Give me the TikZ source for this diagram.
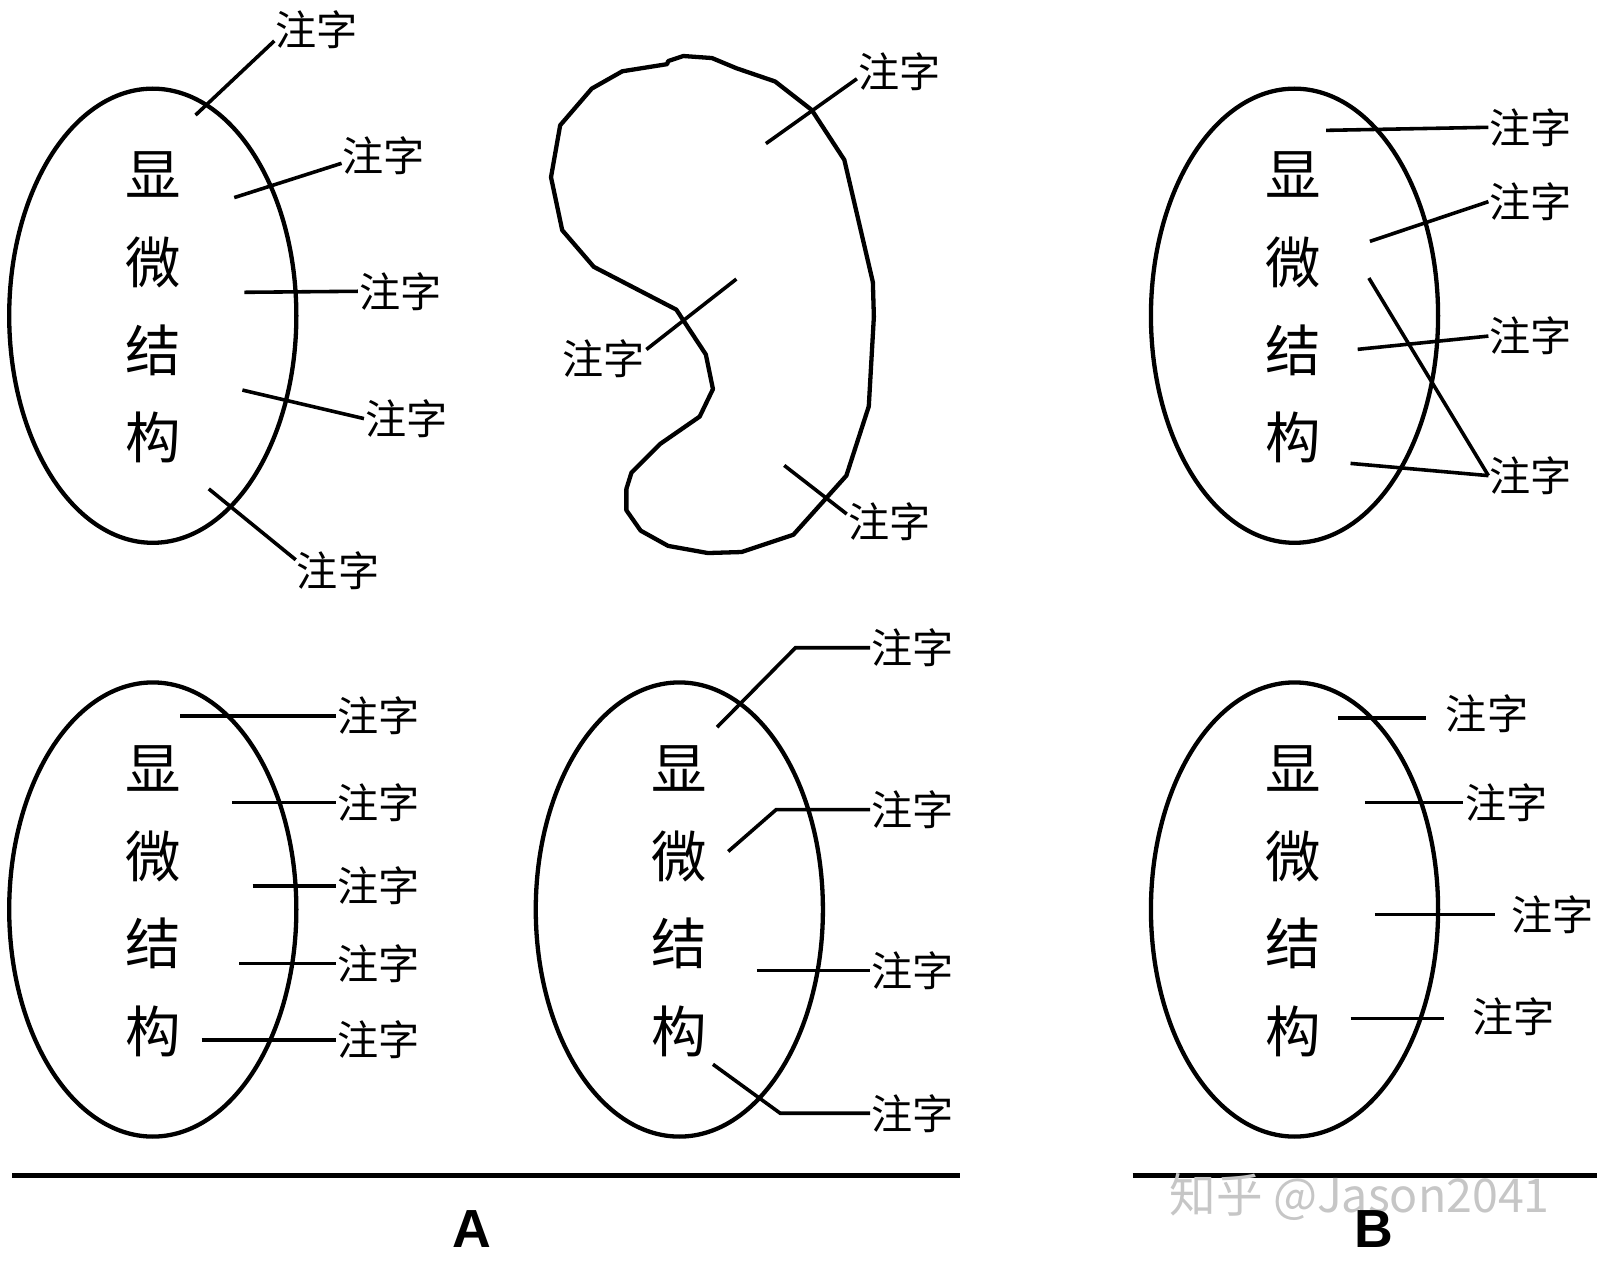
\documentclass[tikz,border=0pt]{standalone}
\usepackage{fontspec}
\setmainfont{Liberation Sans}
\newfontfamily\cjk{Noto Sans CJK SC}
\usetikzlibrary{shapes.geometric}

\begin{document}
\begin{tikzpicture}[x=0.02cm, y=-0.02cm,
        cell/.style={draw, ellipse, line width=2.4pt, minimum width=5.64cm, minimum height=8.92cm, inner sep=0pt},
        micro/.style={font=\cjk\fontsize{31}{49}\selectfont, align=center, inner sep=0pt},
        lbl/.style={font=\cjk\fontsize{23}{27}\selectfont, inner sep=0.5pt},
        lead/.style={line width=2pt},
        outline/.style={line width=2.4pt, line join=round},
        baseline rule/.style={line width=3pt},
        panel/.style={font=\bfseries\fontsize{30}{36}\selectfont}
      ]
        \useasboundingbox (0,0) rectangle (1568,1239);

        % top left
        \node[cell] (cellA) at (150,310) {};
        \node[micro] (wordA) at (150,302) {显\\微\\结\\构};
        \node[lbl] (labA1) at (311,29) {注字};
        \node[lbl] (labA2) at (377,153) {注字};
        \node[lbl] (labA3) at (393,286) {注字};
        \node[lbl] (labA4) at (399,411) {注字};
        \node[lbl] (labA5) at (332,560) {注字};
        \coordinate (ptA1) at (192,113);
        \coordinate (ptA2) at (230,194);
        \coordinate (ptA3) at (240,287);
        \coordinate (ptA4) at (238,383);
        \coordinate (ptA5) at (205,480);
        \draw[lead] (ptA1) -- (labA1.195);
        \draw[lead] (ptA2) -- (labA2.190);
        \draw[lead] (ptA3) -- (labA3.west);
        \draw[lead] (ptA4) -- (labA4.west);
        \draw[lead] (ptA5) -- (labA5.166);

        % kidney
        \draw[outline] (655,63) -- (656,60) -- (671,55) -- (699,57) -- (723,67) -- (761,80)
          -- (797,108) -- (829,157) -- (857,277) -- (858,311) -- (853,399) -- (831,467)
          -- (779,525) -- (728,542) -- (695,543) -- (656,536) -- (629,521) -- (615,501)
          -- (615,480) -- (620,464) -- (648,436) -- (687,409) -- (700,382) -- (693,348)
          -- (664,304) -- (583,262) -- (552,226) -- (541,174) -- (550,123) -- (581,87)
          -- (611,70) -- cycle;
        \node[lbl] (labK1) at (883,70) {注字};
        \node[lbl] (labK2) at (593,352) {注字};
        \node[lbl] (labK3) at (873,512) {注字};
        \coordinate (ptK1) at (752,141);
        \coordinate (ptK2) at (723,274);
        \coordinate (ptK3) at (770,457);
        \draw[lead] (ptK1) -- (labK1.190);
        \draw[lead] (ptK2) -- (labK2.12);
        \draw[lead] (ptK3) -- (labK3.170);

        % top right
        \node[cell] (cellC) at (1271,310) {};
        \node[micro] (wordC) at (1270,302) {显\\微\\结\\构};
        \node[lbl] (labC1) at (1503,125) {注字};
        \node[lbl] (labC2) at (1503,198) {注字};
        \node[lbl] (labC3) at (1503,330) {注字};
        \node[lbl] (labC4) at (1503,467) {注字};
        \coordinate (ptC1) at (1302,128);
        \coordinate (ptC2) at (1345,237);
        \coordinate (ptC3) at (1333,343);
        \coordinate (ptC4) at (1344,273);
        \coordinate (ptC5) at (1326,455);
        \draw[lead] (ptC1) -- (labC1.west);
        \draw[lead] (ptC2) -- (labC2.west);
        \draw[lead] (ptC3) -- (labC3.west);
        \draw[lead] (ptC4) -- (labC4.west);
        \draw[lead] (ptC5) -- (labC4.west);

        % bottom left
        \node[cell] (cellD) at (150,893) {};
        \node[micro] (wordD) at (150,885) {显\\微\\结\\构};
        \node[lbl] (labD1) at (372,703) {注字};
        \node[lbl] (labD2) at (372,788) {注字};
        \node[lbl] (labD3) at (372,870) {注字};
        \node[lbl] (labD4) at (372,946) {注字};
        \node[lbl] (labD5) at (372,1021) {注字};
        \coordinate (ptD1) at (177,703);
        \coordinate (ptD2) at (228,788);
        \coordinate (ptD3) at (248,870);
        \coordinate (ptD4) at (235,946);
        \coordinate (ptD5) at (198,1021);
        \draw[lead] (ptD1) -- (labD1.west);
        \draw[lead] (ptD2) -- (labD2.west);
        \draw[lead] (ptD3) -- (labD3.west);
        \draw[lead] (ptD4) -- (labD4.west);
        \draw[lead] (ptD5) -- (labD5.west);

        % bottom middle
        \node[cell] (cellE) at (667,893) {};
        \node[micro] (wordE) at (667,885) {显\\微\\结\\构};
        \node[lbl] (labE1) at (896,636) {注字};
        \node[lbl] (labE2) at (896,795) {注字};
        \node[lbl] (labE3) at (896,953) {注字};
        \node[lbl] (labE4) at (896,1093) {注字};
        \coordinate (ptE1) at (704,714);
        \coordinate (ptE2) at (715,836);
        \coordinate (ptE3) at (743,953);
        \coordinate (ptE4) at (700,1045);
        \coordinate (bendE1) at (781,636);
        \coordinate (bendE2) at (762,795);
        \coordinate (bendE4) at (766,1093);
        \draw[lead] (ptE1) -- (bendE1) -- (labE1.west);
        \draw[lead] (ptE2) -- (bendE2) -- (labE2.west);
        \draw[lead] (ptE3) -- (labE3.west);
        \draw[lead] (ptE4) -- (bendE4) -- (labE4.west);

        % bottom right
        \node[cell] (cellF) at (1271,893) {};
        \node[micro] (wordF) at (1270,885) {显\\微\\结\\构};
        \node[lbl] (labF1) at (1460,701) {注字};
        \node[lbl] (labF2) at (1479,788) {注字};
        \node[lbl] (labF3) at (1524,898) {注字};
        \node[lbl] (labF4) at (1486,998) {注字};
        \coordinate (ptF1) at (1314,705);
        \coordinate (ptF2) at (1340,788);
        \coordinate (ptF3) at (1350,898);
        \coordinate (ptF4) at (1326,1000);
        \coordinate (endF1) at (1400,705);
        \coordinate (endF2) at (1436,788);
        \coordinate (endF3) at (1468,898);
        \coordinate (endF4) at (1418,1000);
        \draw[lead] (ptF1) -- (endF1);
        \draw[lead] (ptF2) -- (endF2);
        \draw[lead] (ptF3) -- (endF3);
        \draw[lead] (ptF4) -- (endF4);

        % groups
        \coordinate (ruleA0) at (12,1154);
        \coordinate (ruleA1) at (943,1154);
        \coordinate (ruleB0) at (1112,1154);
        \coordinate (ruleB1) at (1568,1154);
        \draw[baseline rule] (ruleA0) -- (ruleA1);
        \draw[baseline rule] (ruleB0) -- (ruleB1);
        \node[panel] (capA) at (463,1207) {A};
        \node[font=\cjk\fontsize{26}{28}\selectfont, text=gray!45] (mark) at (1335,1175) {知乎 @Jason2041};
        \node[panel] (capB) at (1349,1207) {B};
      \end{tikzpicture}
\end{document}
